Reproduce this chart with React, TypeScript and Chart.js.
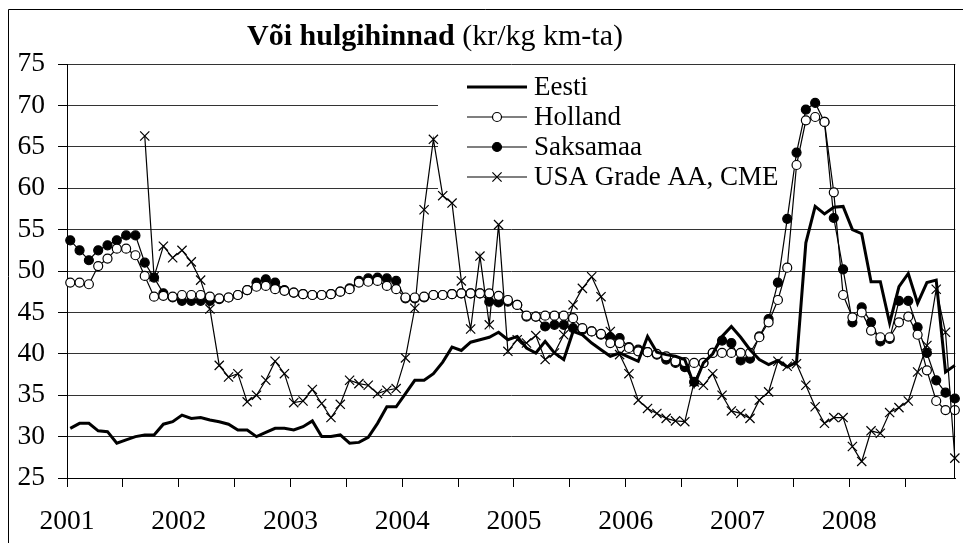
import React, { useEffect, useRef } from 'react';
import { Chart, registerables } from 'chart.js';

Chart.register(...registerables);

const FONT = '"Liberation Serif", "Times New Roman", serif';

const yearLabels = ['2001', '2002', '2003', '2004', '2005', '2006', '2007', '2008'];
const seriesNames = ['Eesti', 'Holland', 'Saksamaa', 'USA Grade AA, CME'];
const yMin = 25;
const yMax = 75;
const yStep = 5;

// monthly values, Jan 2001 .. Dec 2008
const eesti = [
  31.0, 31.6, 31.6, 30.7, 30.6, 29.2, 29.6, 30.0, 30.2, 30.2, 31.5, 31.8,
  32.6, 32.2, 32.3, 32.0, 31.8, 31.5, 30.8, 30.8, 30.0, 30.5, 31.0, 31.0,
  30.8, 31.2, 31.9, 30.0, 30.0, 30.2, 29.2, 29.3, 29.9, 31.6, 33.6, 33.6,
  35.2, 36.8, 36.8, 37.6, 39.0, 40.8, 40.4, 41.4, 41.7, 42.0, 42.6, 41.7,
  42.1, 40.7, 40.1, 41.5, 40.1, 39.3, 42.7, 42.3, 41.3, 40.5, 39.7, 40.1,
  39.6, 39.1, 42.1, 40.2, 39.9, 39.7, 39.3, 36.2, 38.9, 40.0, 42.1, 43.3,
  42.0, 40.5, 39.3, 38.7, 39.2, 38.4, 39.0, 53.4, 57.8, 56.9, 57.7, 57.8,
  55.0, 54.5, 48.7, 48.7, 43.7, 48.1, 49.7, 46.1, 48.6, 48.9, 37.8, 38.6,
];

const holland = [
  48.6, 48.6, 48.4, 50.6, 51.5, 52.7, 52.7, 51.9, 49.4, 46.9, 47.0, 46.9,
  47.1, 47.1, 47.1, 46.9, 46.7, 46.8, 47.1, 47.7, 48.1, 48.2, 47.8, 47.6,
  47.4, 47.2, 47.1, 47.1, 47.2, 47.5, 47.8, 48.6, 48.7, 48.8, 48.2, 47.8,
  46.8, 46.8, 46.9, 47.1, 47.1, 47.2, 47.3, 47.3, 47.3, 47.3, 47.0, 46.5,
  45.9, 44.6, 44.5, 44.6, 44.6, 44.6, 44.3, 43.1, 42.7, 42.4, 41.3, 41.3,
  40.7, 40.3, 40.2, 40.0, 39.7, 39.1, 39.0, 38.9, 38.9, 40.1, 40.1, 40.1,
  40.1, 40.1, 42.0, 43.8, 46.5, 50.4, 62.8, 68.2, 68.6, 68.0, 59.5, 47.1,
  44.4, 45.0, 42.8, 42.0, 42.0, 43.8, 44.5, 42.3, 38.0, 34.3, 33.2, 33.2,
];

const saksamaa = [
  53.7, 52.5, 51.3, 52.5, 53.1, 53.7, 54.3, 54.3, 51.0, 49.2, 47.3, 46.8,
  46.4, 46.4, 46.4, 46.4, 46.6, 46.8, 47.1, 47.7, 48.6, 49.0, 48.6, 47.7,
  47.4, 47.2, 47.1, 47.1, 47.2, 47.5, 47.9, 48.8, 49.1, 49.2, 49.1, 48.8,
  46.7, 46.7, 46.8, 47.1, 47.1, 47.2, 47.3, 47.3, 47.3, 46.3, 46.2, 46.3,
  45.9, 44.5, 44.5, 43.3, 43.5, 43.5, 43.1, 42.9, 42.7, 42.3, 42.0, 41.9,
  40.8, 40.5, 40.2, 39.9, 39.3, 38.9, 38.4, 36.6, 38.9, 40.1, 41.6, 41.3,
  39.2, 39.4, 42.1, 44.2, 48.6, 56.3, 64.3, 69.5, 70.3, 68.0, 56.4, 50.2,
  43.8, 45.6, 43.8, 41.5, 41.8, 46.4, 46.4, 43.2, 40.1, 36.8, 35.3, 34.6,
];

const usa = [
  null, null, null, null, null, null, null, null, 66.3, 49.3, 53.0, 51.6,
  52.5, 51.1, 48.9, 45.4, 38.6, 37.2, 37.6, 34.2, 35.0, 36.8, 39.1, 37.6,
  34.1, 34.3, 35.7, 34.0, 32.3, 33.9, 36.8, 36.4, 36.2, 35.2, 35.6, 35.8,
  39.5, 45.5, 57.4, 65.9, 59.1, 58.2, 48.8, 43.0, 51.8, 43.5, 55.6, 40.3,
  41.7, 41.3, 42.2, 39.3, 40.1, 42.3, 45.9, 47.9, 49.3, 46.9, 42.7, 39.9,
  37.6, 34.4, 33.4, 32.8, 32.2, 31.9, 31.8, 36.6, 36.2, 37.6, 35.0, 33.1,
  32.8, 32.2, 34.4, 35.4, 39.1, 38.5, 38.8, 36.2, 33.6, 31.6, 32.3, 32.3,
  28.8, 27.0, 30.7, 30.4, 32.9, 33.5, 34.3, 37.8, 41.0, 47.8, 42.6, 27.4,
];

const X_MIN = -0.35;
const X_MAX = 95.05;

const toPoints = (arr: (number | null)[]) => arr.map((v, i) => ({ x: i, y: v }));

const drawMarker = (ctx: CanvasRenderingContext2D, style: string, x: number, y: number) => {
  ctx.save();
  ctx.strokeStyle = '#000';
  ctx.lineWidth = 1.2;
  if (style === 'open' || style === 'filled') {
    ctx.beginPath();
    ctx.arc(x, y, 4.5, 0, Math.PI * 2);
    ctx.fillStyle = style === 'open' ? '#fff' : '#000';
    ctx.fill();
    ctx.stroke();
  } else if (style === 'cross') {
    const d = 4.6;
    ctx.beginPath();
    ctx.moveTo(x - d, y - d);
    ctx.lineTo(x + d, y + d);
    ctx.moveTo(x + d, y - d);
    ctx.lineTo(x - d, y + d);
    ctx.stroke();
  }
  ctx.restore();
};

const markerStyles = ['none', 'open', 'filled', 'cross'];

const framePlugin = {
  id: 'frameAndLegend',
  beforeDatasetsDraw(chart: any) {
    const ctx = chart.ctx as CanvasRenderingContext2D;
    ctx.save();
    ctx.fillStyle = '#fff';
    ctx.fillRect(438, 67, 381, 133);
    ctx.restore();
  },
  afterDraw(chart: any) {
    const ctx = chart.ctx as CanvasRenderingContext2D;
    const a = chart.chartArea;
    ctx.save();
    ctx.strokeStyle = '#000';
    ctx.lineWidth = 1;
    ctx.beginPath();
    ctx.moveTo(Math.round(a.right) - 0.5, a.top);
    ctx.lineTo(Math.round(a.right) - 0.5, a.bottom);
    ctx.stroke();
    ctx.beginPath();
    ctx.moveTo(8.5, 543);
    ctx.lineTo(8.5, 9.5);
    ctx.lineTo(963, 9.5);
    ctx.stroke();

    chart.data.datasets.forEach((ds: any, i: number) => {
      const y = 87 + i * 30;
      ctx.strokeStyle = '#000';
      ctx.lineWidth = ds.borderWidth;
      ctx.beginPath();
      ctx.moveTo(467, y);
      ctx.lineTo(527, y);
      ctx.stroke();
      drawMarker(ctx, markerStyles[i], 497, y);
      ctx.fillStyle = '#000';
      ctx.font = `27px ${FONT}`;
      ctx.textBaseline = 'middle';
      ctx.textAlign = 'left';
      ctx.fillText(ds.label, 534, y + 1);
    });
    ctx.restore();
  },
};

export default function App() {
  const ref = useRef<HTMLCanvasElement | null>(null);

  useEffect(() => {
    if (!ref.current) return;
    const chart = new Chart(ref.current, {
      type: 'line',
      data: {
        datasets: [
          {
            label: seriesNames[0],
            data: toPoints(eesti),
            borderColor: '#000',
            borderWidth: 3,
            pointRadius: 0,
            tension: 0,
            clip: false,
          },
          {
            label: seriesNames[1],
            data: toPoints(holland),
            borderColor: '#000',
            borderWidth: 1.2,
            pointStyle: 'circle',
            pointRadius: 4.5,
            pointBorderWidth: 1.2,
            pointBackgroundColor: '#fff',
            pointBorderColor: '#000',
            tension: 0,
            clip: false,
          },
          {
            label: seriesNames[2],
            data: toPoints(saksamaa),
            borderColor: '#000',
            borderWidth: 1.2,
            pointStyle: 'circle',
            pointRadius: 4.5,
            pointBorderWidth: 1.2,
            pointBackgroundColor: '#000',
            pointBorderColor: '#000',
            tension: 0,
            clip: false,
          },
          {
            label: seriesNames[3],
            data: toPoints(usa),
            borderColor: '#000',
            borderWidth: 1.2,
            pointStyle: 'crossRot',
            pointRadius: 6.5,
            pointBorderWidth: 1.2,
            pointBackgroundColor: '#000',
            pointBorderColor: '#000',
            tension: 0,
            clip: false,
          },
        ],
      } as any,
      options: {
        animation: false,
        responsive: false,
        devicePixelRatio: 1,
        layout: { padding: { top: 64, right: 1, left: 0, bottom: 0 } },
        plugins: {
          legend: { display: false },
          title: { display: false },
          tooltip: { enabled: false },
        },
        events: [],
        scales: {
          x: {
            type: 'linear',
            min: X_MIN,
            max: X_MAX,
            afterBuildTicks: (axis: any) => {
              const t = [];
              for (let k = 0; k < 16; k++) t.push({ value: X_MIN + 6 * k });
              axis.ticks = t;
            },
            afterFit: (axis: any) => {
              axis.height = 65;
            },
            ticks: {
              autoSkip: false,
              maxRotation: 0,
              minRotation: 0,
              padding: 18,
              color: '#000',
              font: { family: FONT, size: 27.5 },
              callback: (_v: any, index: number) => (index % 2 === 0 ? yearLabels[index / 2] : ''),
            },
            grid: {
              drawOnChartArea: false,
              drawTicks: true,
              tickLength: 9,
              tickColor: '#000',
              color: '#000',
            },
            border: { display: true, color: '#000', width: 1 },
          },
          y: {
            type: 'linear',
            min: yMin,
            max: yMax,
            afterFit: (axis: any) => {
              axis.width = 67;
            },
            ticks: {
              stepSize: yStep,
              padding: 13,
              color: '#000',
              font: { family: FONT, size: 27.5 },
            },
            grid: {
              color: '#333',
              lineWidth: 1,
              drawTicks: true,
              tickLength: 9,
              tickColor: '#000',
            },
            border: { display: true, color: '#000', width: 1 },
          },
        },
      } as any,
      plugins: [framePlugin],
    });
    return () => chart.destroy();
  }, []);

  return (
    <div
      style={{
        position: 'fixed',
        left: 0,
        top: 0,
        width: 963,
        height: 543,
        background: '#fff',
        overflow: 'hidden',
      }}
    >
      <canvas
        ref={ref}
        width={963}
        height={543}
        style={{ position: 'absolute', left: 0, top: 0, width: 963, height: 543 }}
      />
      <div
        style={{
          position: 'absolute',
          left: 0,
          top: 17,
          width: 870,
          textAlign: 'center',
          fontFamily: FONT,
          fontSize: 30,
          lineHeight: '36px',
          color: '#000',
          whiteSpace: 'nowrap',
        }}
      >
        <span style={{ fontWeight: 'bold' }}>Või hulgihinnad</span> (kr/kg km-ta)
      </div>
    </div>
  );
}
